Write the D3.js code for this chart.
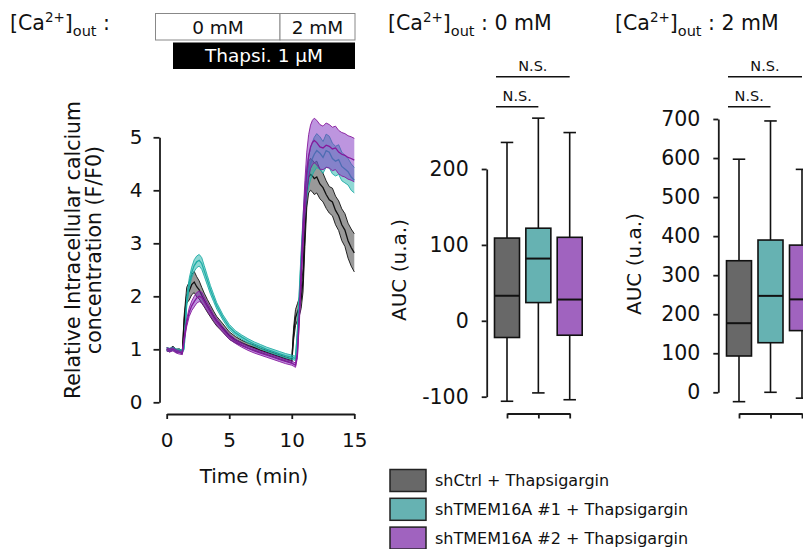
<!DOCTYPE html>
<html>
<head>
<meta charset="utf-8">
<script src="https://cdn.jsdelivr.net/npm/d3@7"></script>
<style>
  body { margin: 0; background: #fff; }
  svg { display: block; font-family: "DejaVu Sans", sans-serif; }
</style>
</head>
<body>
<svg id="fig" width="803" height="549"></svg>
<script>
// time course (min) and mean / sem of F/F0
var timeMin = [0,0.25,0.5,0.75,1,1.25,1.4,1.6,1.8,2,2.2,2.4,2.6,2.8,3,3.25,3.5,3.75,4,4.5,5,5.5,6,6.5,7,7.5,8,8.5,9,9.5,10,10.15,10.3,10.45,10.6,10.75,10.9,11.05,11.2,11.35,11.5,11.65,11.8,12,12.25,12.5,12.75,13,13.25,13.5,13.75,14,14.25,14.5,14.75,15];

var ctrlMean = [1.00,0.98,1.03,0.97,0.98,0.94,1.55,2.02,2.10,2.22,2.27,2.18,2.12,2.02,1.93,1.82,1.72,1.62,1.53,1.40,1.26,1.18,1.12,1.07,1.03,0.98,0.94,0.90,0.86,0.82,0.78,1.30,1.60,1.70,1.80,1.95,2.30,3.20,3.95,4.25,4.30,4.27,4.22,4.25,4.12,4.05,3.92,3.82,3.78,3.62,3.52,3.35,3.25,3.05,2.92,2.82];
var ctrlSem = [0.03,0.03,0.03,0.03,0.03,0.03,0.10,0.15,0.17,0.19,0.20,0.19,0.17,0.15,0.13,0.12,0.11,0.10,0.09,0.08,0.07,0.06,0.05,0.05,0.05,0.04,0.04,0.04,0.04,0.04,0.04,0.12,0.15,0.16,0.17,0.18,0.22,0.26,0.28,0.30,0.30,0.30,0.30,0.30,0.28,0.27,0.26,0.25,0.26,0.27,0.28,0.30,0.31,0.33,0.35,0.36];

var tm1Mean = [1.00,0.99,1.01,0.98,0.97,0.96,1.05,1.90,2.25,2.45,2.58,2.65,2.68,2.62,2.48,2.30,2.12,1.97,1.82,1.60,1.42,1.31,1.23,1.16,1.10,1.05,1.00,0.96,0.92,0.88,0.85,0.84,0.83,1.30,2.00,2.70,3.30,3.80,4.15,4.35,4.50,4.60,4.68,4.75,4.70,4.62,4.75,4.72,4.60,4.55,4.58,4.45,4.40,4.35,4.25,4.19];
var tm1Sem = [0.03,0.03,0.03,0.03,0.03,0.03,0.05,0.08,0.09,0.10,0.11,0.11,0.11,0.11,0.10,0.09,0.08,0.07,0.06,0.05,0.05,0.04,0.04,0.04,0.04,0.04,0.04,0.04,0.04,0.04,0.04,0.04,0.04,0.08,0.12,0.16,0.20,0.24,0.27,0.29,0.30,0.31,0.32,0.32,0.31,0.30,0.31,0.30,0.29,0.28,0.28,0.27,0.26,0.25,0.25,0.24];

var tm2Mean = [1.00,0.98,1.00,0.96,0.94,0.93,1.20,1.50,1.70,1.82,1.90,1.97,2.00,1.98,1.90,1.80,1.70,1.60,1.52,1.37,1.24,1.15,1.08,1.02,0.97,0.93,0.89,0.85,0.81,0.77,0.74,0.72,0.70,0.90,1.60,2.40,3.20,3.85,4.35,4.65,4.82,4.90,4.94,4.90,4.82,4.80,4.85,4.83,4.78,4.80,4.72,4.68,4.66,4.62,4.60,4.57];
var tm2Sem = [0.03,0.03,0.03,0.03,0.03,0.03,0.05,0.07,0.08,0.09,0.10,0.10,0.10,0.10,0.09,0.08,0.07,0.06,0.06,0.05,0.05,0.04,0.04,0.04,0.04,0.04,0.04,0.04,0.04,0.04,0.04,0.04,0.04,0.06,0.12,0.20,0.28,0.33,0.37,0.40,0.41,0.42,0.42,0.42,0.42,0.41,0.42,0.41,0.41,0.41,0.41,0.41,0.41,0.41,0.41,0.41];

var timeTicks = [0,5,10,15];
var ratioTicks = [0,1,2,3,4,5];

// box plots (AUC, u.a.)
var groups = ["shCtrl + Thapsigargin", "shTMEM16A #1 + Thapsigargin", "shTMEM16A #2 + Thapsigargin"];
var boxColors = ["#686868", "#66b2b2", "#a063bf"];
var lineColors = ["#111111", "#1fada6", "#86189c"];
var bandColors = ["#000000", "#20b2aa", "#7b2cbf"];

var auc0Low = [-106,-95,-104];
var auc0Q1 = [-22,24,-19];
var auc0Med = [33,82,28];
var auc0Q3 = [109,122,110];
var auc0High = [235,267,248];
var auc0Ticks = [-100,0,100,200];

var auc2Low = [-24,0,-15];
var auc2Q1 = [93,127,158];
var auc2Med = [177,247,238];
var auc2Q3 = [337,390,377];
var auc2High = [597,695,571];
var auc2Ticks = [0,100,200,300,400,500,600,700];

var sigPairs = [[0,2],[0,1]];
var sigLabels = ["N.S.","N.S."];

var svg = d3.select("#fig");
var AXC = "#1a1a1a";
var fmtInt = function(v){ return String(v); };   // plain hyphen for negatives

function styleAxis(g, fs){
  g.select(".domain").attr("stroke", AXC).attr("stroke-width", 1.8);
  g.selectAll(".tick line").attr("stroke", AXC).attr("stroke-width", 1.8);
  g.selectAll(".tick text").attr("fill", "#111").style("font-size", fs + "px")
    .style("font-family", "DejaVu Sans");
}

// ---------- header labels ----------
function caTitle(x, y, tail){
  var t = svg.append("text").attr("x", x).attr("y", y)
    .style("font-size", "20.5px").attr("fill", "#111");
  t.append("tspan").text("[Ca");
  t.append("tspan").text("2+").style("font-size", "13.5px").attr("dy", -8);
  t.append("tspan").text("]").attr("dy", 8);
  t.append("tspan").text("out").style("font-size", "14.5px").attr("dy", 6);
  t.append("tspan").text(tail).attr("dy", -6);
}
caTitle(10, 30, " :");
caTitle(388, 30, " : 0 mM");
caTitle(615, 30, " : 2 mM");

// condition bars above the trace
var cond = svg.append("g");
cond.append("rect").attr("x", 155.5).attr("y", 13.5).attr("width", 124.5).attr("height", 26.5)
  .attr("fill", "#fff").attr("stroke", "#888").attr("stroke-width", 1);
cond.append("rect").attr("x", 280).attr("y", 13.5).attr("width", 75).attr("height", 26.5)
  .attr("fill", "#fff").attr("stroke", "#888").attr("stroke-width", 1);
cond.append("text").attr("x", 218).attr("y", 33.5).attr("text-anchor", "middle")
  .style("font-size", "18.5px").attr("fill", "#111").text("0 mM");
cond.append("text").attr("x", 317.5).attr("y", 33.5).attr("text-anchor", "middle")
  .style("font-size", "18.5px").attr("fill", "#111").text("2 mM");
cond.append("rect").attr("x", 173).attr("y", 42.5).attr("width", 182).attr("height", 26.5).attr("fill", "#000");
cond.append("text").attr("x", 264).attr("y", 62).attr("text-anchor", "middle")
  .style("font-size", "18.5px").attr("fill", "#fff").text("Thapsi. 1 \u00b5M");

// ---------- trace panel ----------
var x = d3.scaleLinear().domain([0, 15]).range([166.7, 354.3]);
var y = d3.scaleLinear().domain([0, 5]).range([402.3, 137.3]);

var series = [
  {mean: ctrlMean, sem: ctrlSem},
  {mean: tm1Mean, sem: tm1Sem},
  {mean: tm2Mean, sem: tm2Sem}
];

var trace = svg.append("g");
series.forEach(function(s, k){
  var pts = timeMin.map(function(t, i){ return {t: t, m: s.mean[i], e: s.sem[i]}; });
  var area = d3.area().x(function(d){ return x(d.t); })
    .y0(function(d){ return y(d.m - d.e); }).y1(function(d){ return y(d.m + d.e); });
  trace.append("path").datum(pts).attr("d", area)
    .attr("fill", bandColors[k]).attr("fill-opacity", k == 0 ? 0.4 : 0.5);
  [-1, 1].forEach(function(sg){
    var edge = d3.line().x(function(d){ return x(d.t); }).y(function(d){ return y(d.m + sg * d.e); });
    trace.append("path").datum(pts).attr("d", edge).attr("fill", "none")
      .attr("stroke", lineColors[k]).attr("stroke-width", 0.9);
  });
  var line = d3.line().x(function(d){ return x(d.t); }).y(function(d){ return y(d.m); });
  trace.append("path").datum(pts).attr("d", line).attr("fill", "none")
    .attr("stroke", lineColors[k]).attr("stroke-width", 1.3);
});

var yAx = svg.append("g").attr("transform", "translate(159.5,0)")
  .call(d3.axisLeft(y).tickValues(ratioTicks).tickFormat(fmtInt).tickSize(6).tickSizeOuter(0).tickPadding(11));
styleAxis(yAx, 20);
var xAx = svg.append("g").attr("transform", "translate(0,414)")
  .call(d3.axisBottom(x).tickValues(timeTicks).tickFormat(fmtInt).tickSize(5).tickSizeOuter(0).tickPadding(14));
styleAxis(xAx, 20);

svg.append("text").attr("x", 254).attr("y", 483).attr("text-anchor", "middle")
  .style("font-size", "20px").attr("fill", "#111").text("Time (min)");
var yl = svg.append("text").attr("transform", "translate(0,250) rotate(-90)")
  .attr("text-anchor", "middle").style("font-size", "20.5px").attr("fill", "#111");
yl.append("tspan").attr("x", 0).attr("y", 80).text("Relative Intracellular calcium");
yl.append("tspan").attr("x", 0).attr("y", 101).text("concentration (F/F0)");

// ---------- box panels ----------
function boxPanel(opt){
  var bx = d3.scalePoint().domain(d3.range(groups.length)).range(opt.xr);
  var by = d3.scaleLinear().domain(opt.dom).range(opt.yr);
  var bw = 25;
  var g = svg.append("g");

  var ya = g.append("g").attr("transform", "translate(" + opt.ax + ",0)")
    .call(d3.axisLeft(by).tickValues(opt.ticks).tickFormat(fmtInt).tickSize(5).tickSizeOuter(0).tickPadding(13));
  styleAxis(ya, 20.5);
  var xa = g.append("g").attr("transform", "translate(0,413.5)")
    .call(d3.axisBottom(bx).tickSize(5).tickSizeOuter(0).tickFormat(""));
  styleAxis(xa, 20);

  groups.forEach(function(_, i){
    var cx = bx(i);
    var bg = g.append("g").attr("stroke", "#111").attr("stroke-width", 1.6);
    bg.append("line").attr("x1", cx).attr("x2", cx).attr("y1", by(opt.high[i])).attr("y2", by(opt.q3[i]));
    bg.append("line").attr("x1", cx).attr("x2", cx).attr("y1", by(opt.q1[i])).attr("y2", by(opt.low[i]));
    bg.append("line").attr("x1", cx - bw / 4).attr("x2", cx + bw / 4).attr("y1", by(opt.high[i])).attr("y2", by(opt.high[i]));
    bg.append("line").attr("x1", cx - bw / 4).attr("x2", cx + bw / 4).attr("y1", by(opt.low[i])).attr("y2", by(opt.low[i]));
    bg.append("rect").attr("x", cx - bw / 2).attr("width", bw)
      .attr("y", by(opt.q3[i])).attr("height", by(opt.q1[i]) - by(opt.q3[i]))
      .attr("fill", boxColors[i]);
    bg.append("line").attr("x1", cx - bw / 2).attr("x2", cx + bw / 2)
      .attr("y1", by(opt.med[i])).attr("y2", by(opt.med[i])).attr("stroke-width", 2);
  });

  sigPairs.forEach(function(p, j){
    var ly = [76.7, 106.7][j];
    var x1 = bx(p[0]) - 11, x2 = bx(p[1]);
    g.append("line").attr("x1", x1).attr("x2", x2).attr("y1", ly).attr("y2", ly)
      .attr("stroke", "#111").attr("stroke-width", 1.6);
    g.append("text").attr("x", (x1 + x2) / 2).attr("y", ly - 6).attr("text-anchor", "middle")
      .style("font-size", "14.5px").attr("fill", "#111").text(sigLabels[j]);
  });

  g.append("text").attr("transform", "translate(" + opt.lx + "," + opt.ly + ") rotate(-90)")
    .attr("text-anchor", "middle").style("font-size", "20px").attr("fill", "#111").text("AUC (u.a.)");
}

boxPanel({xr: [507, 569.7], dom: [-100, 200], yr: [396.7, 169], ax: 486.7, ticks: auc0Ticks,
  low: auc0Low, q1: auc0Q1, med: auc0Med, q3: auc0Q3, high: auc0High, lx: 406, ly: 270});
boxPanel({xr: [739, 802], dom: [0, 700], yr: [392.3, 119], ax: 718.3, ticks: auc2Ticks,
  low: auc2Low, q1: auc2Q1, med: auc2Med, q3: auc2Q3, high: auc2High, lx: 641, ly: 264});

// ---------- legend ----------
var leg = svg.append("g");
groups.forEach(function(name, i){
  var ly = 469.5 + i * 28.8;
  leg.append("rect").attr("x", 390).attr("y", ly).attr("width", 36).attr("height", 22)
    .attr("fill", boxColors[i]).attr("stroke", "#222").attr("stroke-width", 1.5);
  leg.append("text").attr("x", 435).attr("y", ly + 11).attr("dy", "0.35em")
    .style("font-size", "16px").attr("fill", "#111").text(name);
});
</script>
</body>
</html>
